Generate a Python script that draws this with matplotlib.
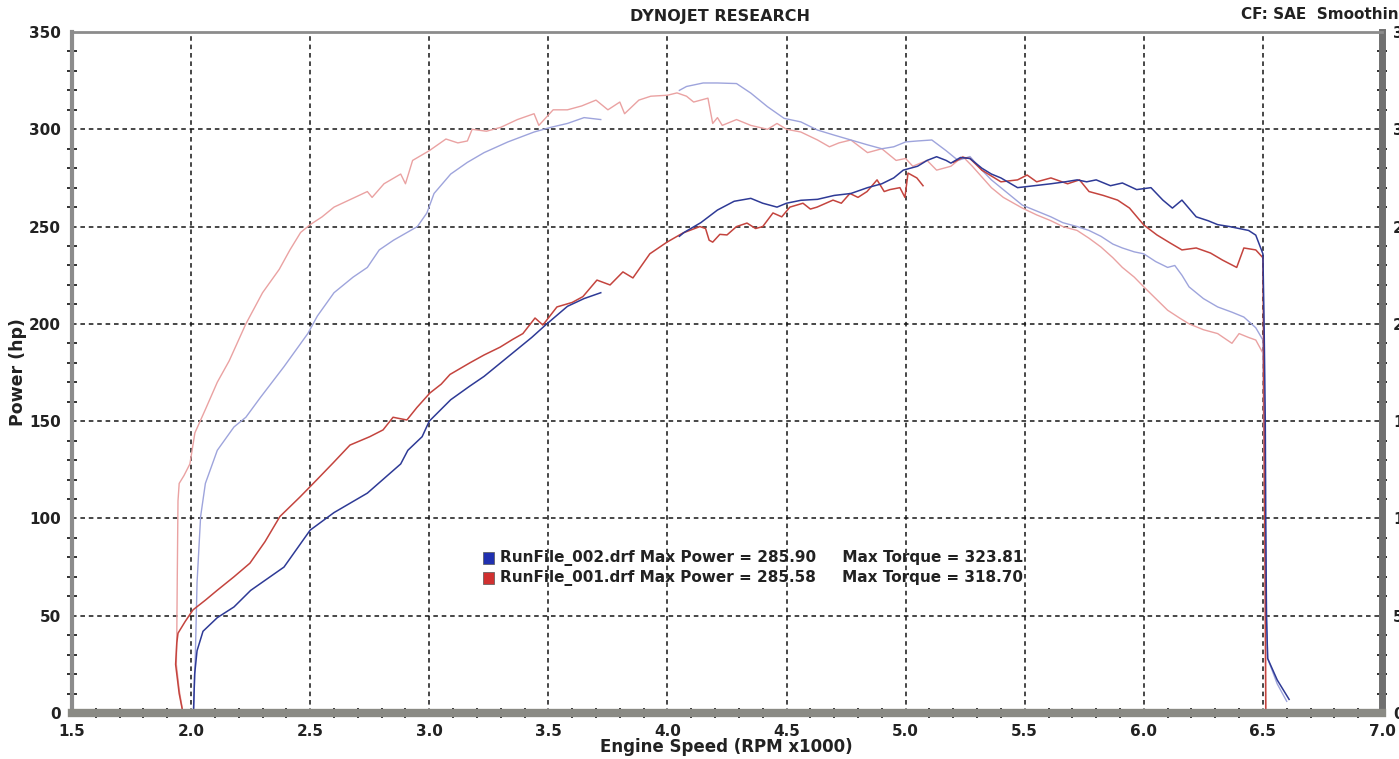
import numpy as np
import matplotlib
matplotlib.use("Agg")
import matplotlib.pyplot as plt
from matplotlib.ticker import MultipleLocator, FormatStrFormatter
from matplotlib.patches import Rectangle

nan = np.nan

# RunFile_002 power (dark blue)
bp_rpm = [2.01, 2.015, 2.025, 2.05, 2.11, 2.18, 2.25, 2.39, 2.5, 2.6, 2.74, 2.88, 2.91, 2.97, 3.0,
          3.09, 3.17, 3.23, 3.3, 3.37, 3.43, 3.49, 3.58, 3.65, 3.72, 3.73,
          4.05, 4.07, 4.14, 4.21, 4.28, 4.35, 4.40, 4.46, 4.50, 4.56, 4.63, 4.70, 4.77, 4.84, 4.90,
          4.95, 4.99, 5.05, 5.09, 5.13, 5.17, 5.19, 5.23, 5.27, 5.32, 5.36, 5.40, 5.47, 5.54, 5.61,
          5.67, 5.72, 5.76, 5.80, 5.86, 5.91, 5.97, 6.03, 6.08, 6.12, 6.16, 6.22, 6.27, 6.31, 6.36,
          6.40, 6.44, 6.47, 6.50, 6.505, 6.51, 6.512, 6.515, 6.52, 6.56, 6.61]
bp_hp = [0, 20, 32, 42, 49, 54.5, 63, 75, 94, 103, 113, 128, 135, 142, 150,
         161, 168, 173, 180, 187, 193, 199.6, 209, 213, 216, nan,
         245, 247, 252, 258.5, 263, 264.5, 262, 260, 262, 263.5, 264, 266, 267, 270, 272,
         275, 279, 281, 284, 285.9, 284, 282.6, 285.5, 285, 280, 277, 275, 270, 271, 272,
         273, 274, 273, 274, 271, 272.4, 269, 270, 263.6, 259.5, 263.6, 255, 253, 251, 250,
         249, 248, 245.6, 236, 200, 150, 100, 50, 28, 17, 7]

# RunFile_001 power (dark red)
rp_rpm = [1.966, 1.95, 1.935, 1.94, 1.945, 1.975, 2.008, 2.06, 2.109, 2.18, 2.247, 2.31, 2.373,
          2.457, 2.529, 2.596, 2.667, 2.75, 2.806, 2.848, 2.864, 2.906, 2.948, 3.003, 3.05, 3.087,
          3.171, 3.23, 3.297, 3.35, 3.393, 3.444, 3.477, 3.536, 3.6, 3.645, 3.704, 3.759, 3.813,
          3.855, 3.926, 3.998, 4.065, 4.136, 4.16, 4.175, 4.19, 4.22, 4.25, 4.29, 4.334, 4.37,
          4.40, 4.443, 4.48, 4.514, 4.569, 4.60, 4.628, 4.695, 4.73, 4.766, 4.80, 4.838, 4.88,
          4.91, 4.934, 4.976, 4.997, 5.01, 5.047, 5.073, 5.08,
          5.2, 5.24, 5.27, 5.32, 5.40, 5.47, 5.51, 5.55, 5.61, 5.68, 5.73, 5.77, 5.83, 5.89,
          5.94, 6.0, 6.055, 6.11, 6.16, 6.22, 6.28, 6.33, 6.39, 6.42, 6.47, 6.50, 6.505, 6.51,
          6.512]
rp_hp = [0, 10, 25, 36, 41, 47, 53, 58, 63, 70, 77, 88, 101,
         111, 120, 128.5, 137.7, 142, 145.5, 152, 151.6, 150.6, 157, 164.5, 169, 174,
         180, 184, 188, 192, 195, 203, 199.4, 208.7, 211, 214, 222.5, 220, 226.7,
         223.6, 236, 242, 246.7, 250, 249, 243, 242, 246, 245.7, 250, 251.8, 249,
         250, 257, 255, 260, 262, 259, 260, 263.6, 262, 267, 265, 268, 274,
         268, 269, 270, 265, 277.5, 275, 271, nan,
         283, 285.6, 285, 279, 273, 274, 276.5, 273, 275, 272, 274, 268, 266, 263.6,
         259.5, 250.8, 245.7, 241.6, 238, 239, 236.4, 232.8, 229, 239, 238, 234, 150, 60,
         0]

# RunFile_002 torque (light blue)
bt_rpm = [2.01, 2.018, 2.025, 2.04, 2.06, 2.11, 2.18, 2.23, 2.29, 2.39, 2.49, 2.53, 2.60, 2.68,
          2.74, 2.79, 2.85, 2.95, 2.99, 3.02, 3.09, 3.16, 3.23, 3.33, 3.44, 3.51, 3.58, 3.65,
          3.72, 3.73,
          4.05, 4.08, 4.15, 4.21, 4.29, 4.35, 4.42, 4.49, 4.56, 4.63, 4.70, 4.77, 4.84, 4.90,
          4.95, 5.0, 5.05, 5.11, 5.17, 5.22, 5.27, 5.32, 5.36, 5.41, 5.49, 5.55, 5.61, 5.66,
          5.72, 5.77, 5.82, 5.87, 5.91, 5.96, 6.0, 6.05, 6.10, 6.13, 6.16, 6.19, 6.25, 6.31,
          6.37, 6.42, 6.47, 6.50, 6.505, 6.51, 6.515, 6.52, 6.56, 6.60]
bt_lbft = [0, 30, 67, 101, 118, 135, 147, 152, 162, 178, 195, 204, 216, 224,
           229, 238, 243, 250, 257, 267, 277, 283, 288, 293.5, 298.6, 301, 303, 306,
           305, nan,
           320, 322, 323.8, 323.8, 323.5, 318.6, 311.6, 305.6, 303.8, 299.6, 297, 294.5, 292, 290,
           291, 293.5, 294, 294.5, 289, 284, 286, 279, 274, 269, 261, 258, 255, 252,
           250, 248, 245, 241, 239, 237, 236, 232, 229, 230, 225, 219, 213, 208.7,
           206, 203.5, 198, 191.7, 150, 100, 50, 28, 15, 6]

# RunFile_001 torque (light red)
rt_rpm = [1.966, 1.95, 1.938, 1.94, 1.942, 1.945, 1.95, 1.97, 1.995, 2.016, 2.06, 2.11, 2.16,
          2.23, 2.30, 2.37, 2.415, 2.46, 2.50, 2.55, 2.60, 2.67, 2.74, 2.76, 2.81, 2.88, 2.9,
          2.93, 3.0, 3.07, 3.12, 3.16, 3.18, 3.24, 3.30, 3.37, 3.44, 3.46, 3.52, 3.58, 3.64,
          3.70, 3.75, 3.80, 3.82, 3.88, 3.93, 4.0, 4.04, 4.08, 4.11, 4.17, 4.19, 4.21, 4.23,
          4.29, 4.35, 4.42, 4.46, 4.50, 4.56, 4.63, 4.68, 4.72, 4.77, 4.84, 4.90, 4.96, 5.0,
          5.03, 5.09, 5.13, 5.19, 5.24, 5.28, 5.32, 5.36, 5.41, 5.49, 5.55, 5.61, 5.66, 5.72,
          5.77, 5.82, 5.87, 5.91, 5.96, 6.0, 6.05, 6.10, 6.15, 6.19, 6.25, 6.31, 6.37, 6.40,
          6.44, 6.47, 6.50, 6.505, 6.51, 6.512]
rt_lbft = [0, 12, 25, 41, 70, 109, 118, 122, 128, 144, 156, 170, 181,
           200, 216, 228, 238, 247, 251, 255, 260, 264, 268, 265, 272, 277, 272,
           284, 289, 295, 293, 294, 300, 299, 301, 305, 308, 302, 310, 310, 312,
           315, 310, 314, 308, 315, 317, 317.5, 318.7, 317, 314, 316, 303, 306, 302,
           305, 302, 300, 303, 300, 298.6, 294.5, 291, 293, 294.5, 288, 290, 284, 285,
           281, 284, 279, 281, 286, 281, 275.5, 270, 265, 259.5, 256, 253, 250, 248,
           244, 239.5, 234, 229, 224, 219, 213, 207, 203, 200, 197, 195, 190, 195,
           193, 191.7, 185, 120, 50, 0]

legend_rows = [
    ("RunFile_002.drf Max Power = 285.90     Max Torque = 323.81", "#2030b0"),
    ("RunFile_001.drf Max Power = 285.58     Max Torque = 318.70", "#d03030"),
]

W, H = 1399, 759
fig = plt.figure(figsize=(W / 100, H / 100), dpi=100)
ax = fig.add_axes([72 / W, 1 - 713 / H, (1382 - 72) / W, (713 - 32) / H])

ax.plot(rt_rpm, rt_lbft, color="#eaa2a2", lw=1.0)
ax.plot(bt_rpm, bt_lbft, color="#9ea4dc", lw=1.0)
ax.plot(rp_rpm, rp_hp, color="#c4443e", lw=1.1)
ax.plot(bp_rpm, bp_hp, color="#2e3a96", lw=1.1)

ax.set_xlim(1.5, 7.0)
ax.set_ylim(0, 350)
ax.xaxis.set_major_locator(MultipleLocator(0.5))
ax.xaxis.set_minor_locator(MultipleLocator(0.1))
ax.xaxis.set_major_formatter(FormatStrFormatter("%.1f"))
ax.yaxis.set_major_locator(MultipleLocator(50))
ax.yaxis.set_minor_locator(MultipleLocator(10))

ax.grid(which="major", color="#151515", linestyle=(0, (3, 2.5)), linewidth=1.1)
ax.set_axisbelow(True)

ax.tick_params(which="both", direction="inout", color="#222222", width=1.3,
               labelsize=11, labelright=True, right=True)
ax.tick_params(which="major", length=0, pad=8)
ax.tick_params(which="minor", length=7)
for lab in ax.get_xticklabels() + ax.get_yticklabels():
    lab.set_fontweight("bold")
    lab.set_color("#222222")

ax.spines["left"].set_linewidth(3)
ax.spines["left"].set_color("#8c8c8c")
ax.spines["bottom"].set_linewidth(6)
ax.spines["bottom"].set_color("#8a8a84")
ax.spines["right"].set_linewidth(5)
ax.spines["right"].set_color("#707070")
ax.spines["top"].set_linewidth(2)
ax.spines["top"].set_color("#8c8c8c")

fig.text(720 / W, 1 - 17 / H, "DYNOJET RESEARCH", ha="center", va="center",
         fontsize=11.5, fontweight="bold", color="#222222")
fig.text(1241 / W, 1 - 15 / H, "CF: SAE  Smoothing = 5", ha="left", va="center",
         fontsize=11, fontweight="bold", color="#222222")
fig.text(726 / W, 1 - 747 / H, "Engine Speed (RPM x1000)", ha="center", va="center",
         fontsize=12, fontweight="bold", color="#222222")
fig.text(18 / W, 1 - 372 / H, "Power (hp)", ha="center", va="center", rotation=90,
         fontsize=12.5, fontweight="bold", color="#222222")

for i, (txt, col) in enumerate(legend_rows):
    yc = 558 + 20 * i
    fig.patches.append(Rectangle((483 / W, 1 - (yc + 6) / H), 11 / W, 12 / H,
                                 transform=fig.transFigure, facecolor=col,
                                 edgecolor="#555555", lw=0.5))
    fig.text(500 / W, 1 - yc / H, txt, ha="left", va="center",
             fontsize=11, fontweight="bold", color="#222222")

fig.savefig("out.png", dpi=100)
